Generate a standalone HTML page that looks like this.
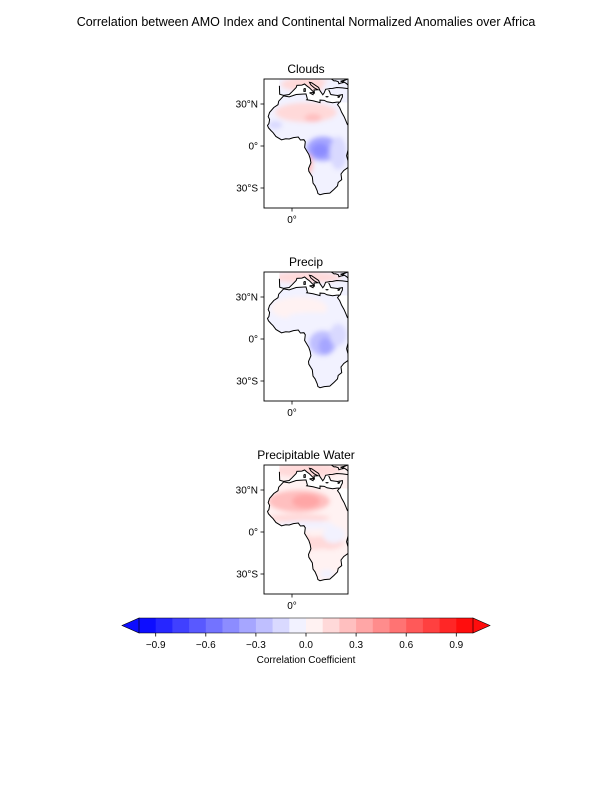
<!DOCTYPE html>
<html><head><meta charset="utf-8">
<style>
body{margin:0;background:#fff;}
svg{display:block;font-family:"Liberation Sans","DejaVu Sans",sans-serif;}
</style></head>
<body>
<svg id="fig" width="612" height="792" viewBox="0 0 612 792">
<defs>
<filter id="blur" x="-50%" y="-50%" width="200%" height="200%"><feGaussianBlur stdDeviation="2.5"/></filter>
</defs>
<text x="306" y="26" text-anchor="middle" font-size="12.5">Correlation between AMO Index and Continental Normalized Anomalies over Africa</text>
<g id="maps"></g>
<g id="cbar"></g>
</svg>
<script>
const NS='http://www.w3.org/2000/svg';
const panelTitles=['Clouds','Precip','Precipitable Water'];
const panelNames=['clouds-map','precip-map','precipitable-water-map'];
const panelBase=[-0.05,-0.02,0.06];
// blobs: [lon, lat, rx_deg, ry_deg, correlation]
const cloudsBlobs=[[10,24,22,7,0.14],[15,20,6,3,0.22],[-12,15,5,3,-0.15],[22,-2,12,9,-0.3],[20,-3,6,5,-0.4],[33,-5,6,12,-0.18],[12,-13,3,7,0.25],[25,-25,10,6,-0.06],[10,44,18,5,0.1],[30,42,8,5,-0.1]];
const precipBlobs=[[5,22,20,8,0.06],[15,16,18,3,-0.08],[22,-3,10,9,-0.25],[24,-5,5,6,-0.35],[33,3,6,8,-0.12],[25,-22,10,8,-0.04],[10,44,25,4,0.1]];
const pwBlobs=[[5,22,22,8,0.24],[10,22,10,5,0.3],[5,10,22,3,0.12],[10,5,20,3,-0.02],[22,-8,15,5,0.14],[30,-2,8,6,-0.05],[22,-20,10,8,0.05],[25,-30,5,3,-0.06],[10,-8,5,6,0.18],[10,44,25,5,0.15]];
const panelBlobs=[cloudsBlobs,precipBlobs,pwBlobs];
const latTicks=[30,0,-30];
const latLabels=['30°N','0°','30°S'];
const lonTicks=[0];
const lonLabels=['0°'];
const cbarLevels=[-1,-0.9,-0.8,-0.7,-0.6,-0.5,-0.4,-0.3,-0.2,-0.1,0,0.1,0.2,0.3,0.4,0.5,0.6,0.7,0.8,0.9,1];
const cbarTicks=[-0.9,-0.6,-0.3,0.0,0.3,0.6,0.9];
const cbarTickLabels=['\u22120.9','\u22120.6','\u22120.3','0.0','0.3','0.6','0.9'];
const africa=[[-17,21],[-16,24],[-13,27.5],[-10,29.5],[-9.5,32],[-6,35.8],[-2,35.1],[3,36.8],[10,37.2],[11,33.5],[10.5,33],[15,32.3],[20,31],[20,32.8],[23,32.6],[25,31.6],[29,30.9],[32,31.3],[34,31.3],[32.5,29.5],[34,27.5],[35.5,24],[37.2,21],[38.5,18],[39.5,15.5],[41.5,13.5],[43.3,12.5],[44,11],[51,11.8],[51,10.5],[49,6],[46,2],[42,-1],[40,-3],[39,-7],[40,-10.5],[40.5,-15],[37,-17.5],[35,-20],[35.5,-24],[33,-26],[32.5,-28.5],[30,-31],[27,-33.7],[23,-34],[20,-34.8],[18.5,-34],[18,-32],[16.5,-28.5],[15,-26.5],[14.5,-22],[12,-18],[11.8,-16],[13.5,-12],[13,-9],[12,-6],[9,-1],[9.5,3],[8.5,4.5],[6,4.3],[4.5,6.4],[1,6],[-2,5],[-4.5,5.2],[-7.5,4.4],[-11.5,6.8],[-13.5,9.5],[-15,11],[-16.8,13],[-17.5,14.7],[-16.5,16],[-16,19]];
const europeLines=[
 [[-9,43],[-8.8,37],[-6,36.2],[-2,36.8],[0,38.7],[3,41.8],[3.5,43.3],[7,43.5],[9,44.3],[10.5,43],[12.5,41.5],[16,38],[15.7,40],[18.5,40.2],[16,41.5],[13.5,43.6],[12.5,45.5],[14,45.2],[19,41.8],[20,39.5],[22,36.6],[23,38],[24,40.5],[26,40.8],[27,41.1],[29,41.2],[32,41.8],[36,41.5],[40,41]],
 [[26.2,40],[27,38.5],[27.5,37],[28,36.7],[30.5,36.3],[32.5,36.1],[36,36.7],[36,35],[35,33],[34.5,31.6],[34,31.3]],
 [[8.5,41],[9.5,41],[9.5,39],[8.5,39],[8.5,41]],[[12.5,38],[15.5,38.2],[15,36.7],[12.5,38]],[[24,35.3],[26,35.3],[25,35],[24,35.3]],[[32.5,35],[34,35.5],[33.5,34.7],[32.5,35]],
 [[40,48],[38,47],[36,46.5],[39,44.5],[40,43.5]],[[28,48],[30,46.5],[31,46.6],[33,46],[33.5,44.5],[35,45],[36.5,45.3],[35,46.3],[38,47.2]]
];
function col(v){
 let t=Math.max(-1,Math.min(1,v));
 let i=Math.min(19,Math.floor((t+1)/0.1));
 let c=cbarLevels[i]+0.05;
 if(c<0){let a=Math.round(255*(1+c));return `rgb(${a},${a},255)`;}
 let a=Math.round(255*(1-c));return `rgb(255,${a},${a})`;
}
function mk(tag,attrs,parent){const e=document.createElementNS(NS,tag);for(const k in attrs)e.setAttribute(k,attrs[k]);parent.appendChild(e);return e;}
const maps=document.getElementById('maps');
const L=264,R=348,T0=79,B0=208,DY=193,PX=1.4;
panelTitles.forEach((title,p)=>{
 const dy=p*DY;
 const xs=lon=>292+lon*PX, ys=lat=>146+dy-lat*PX;
 const g=mk('g',{},maps);
 
 
 const cp=mk('clipPath',{id:'clip'+p},g);
 mk('rect',{x:L,y:T0+dy,width:R-L,height:B0-T0},cp);
 const cl=mk('clipPath',{id:'land'+p},g);
 const pts=africa.map(q=>xs(q[0])+','+ys(q[1])).join(' ');
 mk('polygon',{points:pts},cl);
 mk('polygon',{points:[[-9,48],[-9,43],[-8.8,37],[-6,36.2],[-2,36.8],[0,38.7],[3,41.8],[3.5,43.3],[7,43.5],[9,44.3],[10.5,43],[12.5,41.5],[16,38],[15.7,40],[18.5,40.2],[20,39.5],[22,36.6],[24,40.5],[27,41.1],[26.2,40],[27.5,37],[30.5,36.3],[36,36.7],[36,35],[35,33],[34,31.3],[40,31],[40,48]].map(q=>xs(q[0])+','+ys(q[1])).join(' ')},cl);
 const gc=mk('g',{'clip-path':`url(#clip${p})`},g);
 const gl=mk('g',{'clip-path':`url(#land${p})`},gc);
 const field=mk('g',{filter:'url(#blur)'},gl);
 
 
 mk('rect',{x:L-20,y:T0+dy-20,width:R-L+40,height:B0-T0+40,fill:col(panelBase[p])},field);
 panelBlobs[p].forEach(b=>{
  const e=mk('ellipse',{cx:xs(b[0]),cy:ys(b[1]),rx:b[2]*PX,ry:b[3]*PX,fill:col(b[4])},field);
  
  
 });
 const coast=mk('polygon',{points:pts,fill:'none',stroke:'#000','stroke-width':1},gc);
 
 
 europeLines.forEach(line=>{
  const pl=mk('polyline',{points:line.map(q=>xs(q[0])+','+ys(q[1])).join(' '),fill:'none',stroke:'#000','stroke-width':1},gc);
  
  
 });
 const fr=mk('rect',{x:L,y:T0+dy,width:R-L,height:B0-T0,fill:'none',stroke:'#000','stroke-width':0.9},g);
 
 
 const tt=mk('text',{x:(L+R)/2,y:T0+dy-6,'text-anchor':'middle','font-size':12},g);
 tt.textContent=title;
 
 
 latTicks.forEach((lat,i)=>{
  mk('line',{x1:L,x2:L-3.5,y1:ys(lat),y2:ys(lat),stroke:'#000','stroke-width':0.8},g);
  const t=mk('text',{x:L-6,y:ys(lat)+3.5,'text-anchor':'end','font-size':10},g);
  t.textContent=latLabels[i];
  
  
 });
 lonTicks.forEach((lon,i)=>{
  mk('line',{x1:xs(lon),x2:xs(lon),y1:B0+dy,y2:B0+dy+3.5,stroke:'#000','stroke-width':0.8},g);
  const t=mk('text',{x:xs(lon),y:B0+dy+15,'text-anchor':'middle','font-size':10},g);
  t.textContent=lonLabels[i];
  
  
 });
});
// colorbar
const cb=document.getElementById('cbar');
const CL=139,CR=473,CT=618,CB=633;
const cx=v=>CL+(v+1)/2*(CR-CL);
for(let i=0;i<cbarLevels.length-1;i++){
 const r=mk('rect',{x:cx(cbarLevels[i]),y:CT,width:cx(cbarLevels[i+1])-cx(cbarLevels[i])+0.5,height:CB-CT,fill:col(cbarLevels[i]+0.05)},cb);
 
 
}
const la=mk('polygon',{points:`${CL},${CT} ${CL},${CB} 122,${(CT+CB)/2}`,fill:'rgb(13,13,255)',stroke:'#000','stroke-width':0.6},cb);


const ra=mk('polygon',{points:`${CR},${CT} ${CR},${CB} 490,${(CT+CB)/2}`,fill:'rgb(255,13,13)',stroke:'#000','stroke-width':0.6},cb);


mk('polyline',{points:`${CL},${CT} ${CR},${CT}`,stroke:'#000','stroke-width':0.6},cb);
mk('polyline',{points:`${CL},${CB} ${CR},${CB}`,stroke:'#000','stroke-width':0.6},cb);
cbarTicks.forEach((v,i)=>{
 mk('line',{x1:cx(v),x2:cx(v),y1:CB,y2:CB+3.5,stroke:'#000','stroke-width':0.8},cb);
 const t=mk('text',{x:cx(v),y:CB+15,'text-anchor':'middle','font-size':10},cb);
 t.textContent=cbarTickLabels[i];
 
 
});
const lab=mk('text',{x:306,y:663,'text-anchor':'middle','font-size':10},cb);
lab.textContent='Correlation Coefficient';


</script>
</body></html>
